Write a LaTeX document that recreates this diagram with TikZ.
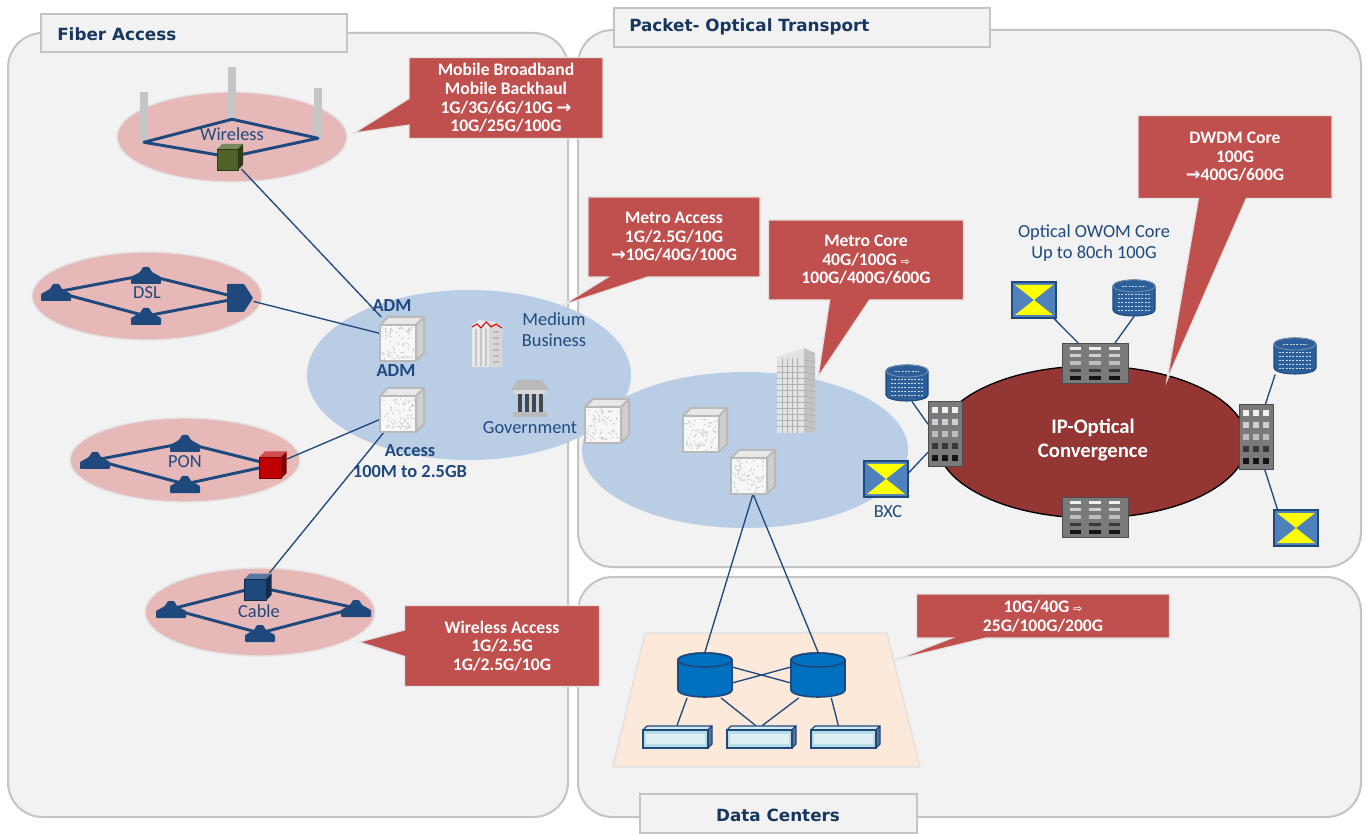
\documentclass[tikz,border=0pt]{standalone}
\usepackage{fontspec}
\setmainfont{Carlito}
\newfontfamily\titlefont{DejaVu Sans}
\newfontfamily\symfont{DejaVu Sans}
\usetikzlibrary{shapes.callouts,shapes.geometric}

\definecolor{panelfill}{HTML}{F2F2F2}
\definecolor{panelline}{HTML}{C4C4C4}
\definecolor{pinkfill}{HTML}{E6B9B8}
\definecolor{bluefill}{HTML}{B9CDE5}
\definecolor{calloutred}{HTML}{C0504D}
\definecolor{ringred}{HTML}{943634}
\definecolor{navy}{HTML}{1F497D}
\definecolor{titleblue}{HTML}{17375E}
\definecolor{xblue}{HTML}{4F81BD}
\definecolor{xyellow}{HTML}{FFFF00}
\definecolor{dcblue}{HTML}{0070C0}
\definecolor{dbblue}{HTML}{2D5F9A}
\definecolor{peach}{HTML}{FDE9D9}
\definecolor{swcyan}{HTML}{B7DEE8}
\definecolor{cubegreen}{HTML}{4F6228}
\definecolor{cubered}{HTML}{C00000}
\definecolor{rackgray}{HTML}{7A7A7A}

\tikzset{
  % speckled grey network element
  pics/graycube/.style={code={
    \fill[gray!6] (-22,-14) rectangle (14,22);
    \foreach \k in {1,...,70}{
      \pgfmathsetmacro\px{-20+32*rnd}
      \pgfmathsetmacro\py{-12+32*rnd}
      \fill[gray!40] (\px,\py) circle[radius=0.9];
    }
    \draw[gray!55, line width=1.5pt, line join=round] (-22,-14) rectangle (14,22);
    \filldraw[fill=gray!18, draw=gray!55, line width=1.5pt, line join=round]
      (-22,-14) -- (-14,-22) -- (22,-22) -- (14,-14) -- cycle;
    \filldraw[fill=gray!38, draw=gray!55, line width=1.5pt, line join=round]
      (14,-14) -- (22,-22) -- (22,14) -- (14,22) -- cycle;
  }},
  % small solid cube: front / top / side colours
  pics/solidcube/.style n args={3}{code={
    \fill[#1] (-10,-6) rectangle (6,10);
    \fill[#2] (-10,-6) -- (-6,-10) -- (10,-10) -- (6,-6) -- cycle;
    \fill[#3] (6,-6) -- (10,-10) -- (10,6) -- (6,10) -- cycle;
    \draw[#3, line width=0.4pt] (-10,-6) rectangle (6,10);
  }},
  pics/house/.style={code={
    \fill[navy, rounded corners=0.6pt] (-15,9) -- (-15,2) -- (-6,-3) -- (-3,-8) -- (3,-8)
      -- (6,-3) -- (15,2) -- (15,9) -- cycle;
  }},
  pics/dslhub/.style={code={
    \fill[navy, rounded corners=0.6pt] (-13,-14) -- (4,-14) -- (13,0) -- (4,14) -- (-13,14) -- cycle;
  }},
  % storage cylinder with printed texture
  pics/tdb/.style={code={
    \filldraw[fill=dbblue, draw=navy, line width=0.8pt]
      (-21,-12) -- (-21,12) arc[start angle=180, end angle=0, x radius=21, y radius=6]
      -- (21,-12) arc[start angle=0, end angle=-180, x radius=21, y radius=6] -- cycle;
    \draw[navy!60!white, line width=0.6pt] (0,-12) ellipse[x radius=21, y radius=6];
    \foreach \yy in {-4,0,4,8,12}
      \draw[white!75!dbblue, line width=0.6pt, dash pattern=on 1.6pt off 0.9pt] (-16,\yy) -- (16,\yy);
    \draw[white!75!dbblue, line width=0.6pt, dash pattern=on 1.6pt off 0.9pt] (-12,-12) -- (12,-12);
  }},
  % data-centre router cylinder
  pics/dcdb/.style={code={
    \filldraw[fill=dcblue, draw=navy, line width=1.2pt]
      (-27,-15) -- (-27,15) arc[start angle=180, end angle=0, x radius=27, y radius=7]
      -- (27,-15) arc[start angle=0, end angle=-180, x radius=27, y radius=7] -- cycle;
    \draw[navy, line width=1.2pt] (0,-15) ellipse[x radius=27, y radius=7];
  }},
  % optical cross-connect
  pics/xbox/.style={code={
    \filldraw[fill=xblue, draw=navy, line width=1pt] (-22,-18) rectangle (22,18);
    \fill[xyellow] (-19,-15) -- (19,-15) -- (0,0) -- cycle;
    \fill[xyellow] (-19,15) -- (19,15) -- (0,0) -- cycle;
  }},
  % grey core node, width #1, height #2
  pics/rack/.style 2 args={code={
    \filldraw[fill=rackgray, draw=black!70, line width=0.6pt] (-#1/2,-#2/2) rectangle (#1/2,#2/2);
    \foreach \c in {-1,0,1}{
      \foreach \r/\col in {0/gray!12, 1/gray!38, 2/gray!52, 3/black!78, 4/black!92}{
        \fill[\col] ({\c*#1*0.29-#1*0.085}, {-#2/2+#2*(0.09+\r*0.185)})
          rectangle ++({#1*0.17}, {#2*0.085});
      }
    }
  }},
  % office tower
  pics/tower/.style={code={
    \fill[gray!22] (-19,-33) -- (8,-42) -- (8,43) -- (-19,43) -- cycle;
    \fill[gray!48] (8,-42) -- (19,-37) -- (19,41) -- (8,43) -- cycle;
    \foreach \yy in {-24,-18,...,40} \draw[gray!60, line width=0.35pt] (-19,\yy) -- (8,\yy);
    \foreach \xx in {-14,-9,...,4} \draw[gray!60, line width=0.35pt] (\xx,-32) -- (\xx,43);
    \foreach \yy in {-30,-24,...,38} \draw[gray!70, line width=0.35pt] (8,\yy) -- (19,\yy+2);
  }},
  % medium business building
  pics/bizbldg/.style={code={
    \fill[gray!18] (-15,-18) -- (-8,-23) -- (8,-21) -- (15,-17) -- (15,24) -- (-15,24) -- cycle;
    \fill[gray!32] (2,-20) -- (15,-17) -- (15,24) -- (2,24) -- cycle;
    \foreach \xx in {-12,-7,-2} \fill[gray!45] (\xx,-14) rectangle (\xx+2,23);
    \foreach \yy in {-12,-6,...,20} \fill[gray!55] (6,\yy) rectangle (12,\yy+2);
    \draw[red!85!black, line width=0.8pt] (-15,-16) -- (-10,-19) -- (-6,-15) -- (-1,-21)
      -- (4,-16) -- (9,-19) -- (15,-15);
  }},
  % government building
  pics/govbldg/.style={code={
    \fill[gray!55] (-19,-8) -- (-12,-18) -- (12,-18) -- (19,-8) -- cycle;
    \fill[gray!30] (-16,-8) rectangle (16,-4);
    \foreach \xx in {-12,-5,2,9} \fill[black!72] (\xx,-4) rectangle (\xx+4,14);
    \fill[gray!55] (-17,14) rectangle (17,19);
  }},
  % top-of-rack switch
  pics/dcswitch/.style={code={
    \filldraw[fill=swcyan!60!white, draw=navy, line width=0.9pt, line join=round]
      (-34,-7) -- (-30,-11) -- (35,-11) -- (31,-7) -- cycle;
    \filldraw[fill=navy!75, draw=navy, line width=0.9pt, line join=round]
      (31,-7) -- (35,-11) -- (35,7) -- (31,11) -- cycle;
    \filldraw[fill=swcyan, draw=navy, line width=0.9pt] (-34,-7) rectangle (31,11);
    \fill[white!55!swcyan] (-31,-3) rectangle (28,7);
  }},
}

\begin{document}
\begin{tikzpicture}[x=0.75pt, y=-0.75pt,
  panel/.style={fill=panelfill, draw=panelline, line width=1.5pt, rounded corners=26pt},
  tab/.style={fill=panelfill, draw=panelline, line width=1.5pt},
  title/.style={font=\titlefont\bfseries\fontsize{12.6}{14}\selectfont, text=titleblue, inner sep=0pt},
  cloudpink/.style={ellipse, fill=pinkfill, draw=gray!22, line width=1pt, inner sep=0pt},
  cloudblue/.style={ellipse, fill=bluefill, inner sep=0pt},
  diamondline/.style={navy, line width=2.2pt, line join=round},
  link/.style={navy, line width=1pt},
  lbl/.style={font=\fontsize{13.8}{15.5}\selectfont, text=navy, inner sep=0pt, align=center},
  lblb/.style={font=\fontsize{13.8}{15.5}\selectfont\bfseries, text=navy, inner sep=0pt, align=center},
  redcallout/.style={rectangle callout, fill=calloutred, draw=gray!22, line width=1pt,
    text=white, font=\fontsize{13.2}{13.9}\selectfont\bfseries, align=center,
    callout pointer width=20pt},
  ib/.style 2 args={inner sep=0pt, outer sep=0pt, minimum width=#1*0.75pt, minimum height=#2*0.75pt},
  antenna/.style={inner sep=0pt, minimum width=5.5pt, minimum height=#1*0.75pt, fill=gray!45},
]
\pgfmathsetseed{17}
\fill[white] (0,0) rectangle (1365,834);
\useasboundingbox (0,0) rectangle (1365,834);

% ---------- panels ----------
\draw[panel] (8,33) rectangle (568,817);
\draw[panel] (578,30) rectangle (1361,567);
\draw[panel] (578,577) rectangle (1361,817);

\draw[tab] (41,14) rectangle (347,52);
\node[title, anchor=west] (tFiber) at (57,34) {Fiber Access};
\draw[tab] (614,8) rectangle (990,47);
\node[title, anchor=west] (tPacket) at (629,27) {Packet- Optical Transport};
\draw[tab] (640,794) rectangle (917,833);
\node[title] (tDC) at (778,815) {Data Centers};

% ---------- clouds ----------
\node[cloudpink, minimum width=230*0.75pt, minimum height=90*0.75pt] (wlCloud) at (232,137) {};
\node[cloudpink, minimum width=230*0.75pt, minimum height=88*0.75pt] (dslCloud) at (147,296) {};
\node[cloudpink, minimum width=230*0.75pt, minimum height=84*0.75pt] (ponCloud) at (185,460) {};
\node[cloudpink, minimum width=230*0.75pt, minimum height=88*0.75pt] (cabCloud) at (260,612) {};
\node[cloudblue, minimum width=324*0.75pt, minimum height=170*0.75pt] (accCloud) at (469,375) {};
\node[cloudblue, minimum width=326*0.75pt, minimum height=156*0.75pt] (metroCloud) at (745,450) {};
\node[ellipse, fill=ringred, draw=black, line width=1pt, inner sep=0pt,
      minimum width=310*0.75pt, minimum height=152*0.75pt] (coreRing) at (1092,442) {};
\filldraw[fill=peach, draw=gray!25, line width=1pt] (645,633) -- (887,633) -- (920,767) -- (613,767) -- cycle;

% ---------- element placeholders ----------
\node[antenna=50] (antL) at (144,117) {};
\node[antenna=52] (antC) at (232,93) {};
\node[antenna=50] (antR) at (318,113) {};
\node[ib={27}{24}] (wCube) at (230,157) {};

\node[ib={30}{18}] (dslL) at (56,292) {};
\node[ib={30}{18}] (dslT) at (146,275) {};
\node[ib={30}{18}] (dslB) at (146,316) {};
\node[ib={27}{28}] (dslHub) at (240,298) {};

\node[ib={30}{18}] (ponL) at (95,460) {};
\node[ib={30}{18}] (ponT) at (185,443) {};
\node[ib={30}{18}] (ponB) at (185,484) {};
\node[ib={28}{28}] (ponCube) at (273,465) {};

\node[ib={30}{18}] (cabL) at (171,609) {};
\node[ib={30}{18}] (cabR) at (356,608) {};
\node[ib={30}{18}] (cabB) at (260,633) {};
\node[ib={30}{28}] (cabCube) at (258,587) {};

\node[ib={44}{44}] (adm) at (402,339) {};
\node[ib={44}{44}] (access) at (402,410) {};
\node[ib={30}{46}] (biz) at (487,343) {};
\node[ib={38}{37}] (gov) at (530,398) {};

\node[ib={44}{44}] (m1) at (607,421) {};
\node[ib={44}{44}] (m2) at (705,430) {};
\node[ib={44}{44}] (m3) at (753,472) {};
\node[ib={38}{85}] (tower) at (796,390) {};

\node[ib={66}{40}] (rackT) at (1095,363) {};
\node[ib={66}{40}] (rackB) at (1095,517) {};
\node[ib={34}{65}] (rackL) at (945,434) {};
\node[ib={34}{65}] (rackR) at (1256,437) {};
\node[ib={43}{37}] (dbL) at (907,383) {};
\node[ib={43}{37}] (dbT) at (1134,298) {};
\node[ib={43}{37}] (dbR) at (1295,356) {};
\node[ib={45}{37}] (xT) at (1034,300) {};
\node[ib={45}{37}] (xR) at (1296,528) {};
\node[ib={45}{37}] (bxc) at (886,479) {};

\node[ib={55}{46}] (db1) at (705,675) {};
\node[ib={55}{46}] (db2) at (818,675) {};
\node[ib={69}{23}] (sw1) at (677,737) {};
\node[ib={69}{23}] (sw2) at (761,737) {};
\node[ib={69}{23}] (sw3) at (845,737) {};

% ---------- access rings ----------
\draw[diamondline] (antL.south) -- (antC.south) -- (antR.south) -- (wCube.center) -- cycle;
\draw[diamondline] (dslL.center) -- (dslT.center) -- (dslHub.center) -- (dslB.center) -- cycle;
\draw[diamondline] (ponL.center) -- (ponT.center) -- (ponCube.center) -- (ponB.center) -- cycle;
\draw[diamondline] (cabL.center) -- (cabCube.center) -- (cabR.center) -- (cabB.center) -- cycle;

% ---------- links ----------
\draw[link] (wCube) -- (adm);
\draw[link] (dslHub) -- (adm);
\draw[link] (ponCube) -- (access);
\draw[link] (cabCube) -- (access);

\draw[link] (m3.south) -- (db1.north);
\draw[link] (m3.south) -- (db2.north);
\draw[link] (db1.16) -- (db2.-164);
\draw[link] (db1.-16) -- (db2.164);
\draw[link] (db1.-128) -- (sw1.north);
\draw[link] (db1.-55) -- ([xshift=-4pt]sw2.north);
\draw[link] (db2.-130) -- ([xshift=1pt]sw2.north);
\draw[link] (db2.-60) -- ([xshift=-5pt]sw3.north);

\draw[link] (rackT.130) -- (xT.-43);
\draw[link] (rackT.45) -- (dbT.south);
\draw[link] (rackL.150) -- (dbL.-75);
\draw[link] (rackL.-133) -- (bxc.15);
\draw[link] (rackR.74) -- (dbR.-137);
\draw[link] (rackR.-75) -- (xR.135);

% ---------- element icons ----------
\pic[scale=1.3] at (wCube) {solidcube={cubegreen}{cubegreen!75!white}{cubegreen!60!black}};
\foreach \h in {dslL,dslT,dslB,ponL,ponT,ponB,cabL,cabR,cabB} \pic at (\h) {house};
\pic at (dslHub) {dslhub};
\pic[scale=1.35] at (ponCube) {solidcube={cubered}{cubered!70!white}{cubered!65!black}};
\pic[scale=1.35] at (cabCube) {solidcube={navy}{navy!75!white}{navy!60!black}};

\foreach \c in {adm,access,m1,m2,m3} \pic at (\c) {graycube};
\pic at (biz) {bizbldg};
\pic at (gov) {govbldg};
\pic at (tower) {tower};

\pic at (rackT) {rack={66}{40}};
\pic at (rackB) {rack={66}{40}};
\pic at (rackL) {rack={34}{65}};
\pic at (rackR) {rack={34}{65}};
\foreach \d in {dbL,dbT,dbR} \pic at (\d) {tdb};
\foreach \x in {xT,xR,bxc} \pic at (\x) {xbox};

\pic at (db1) {dcdb};
\pic at (db2) {dcdb};
\foreach \s in {sw1,sw2,sw3} \pic at (\s) {dcswitch};

% ---------- labels ----------
\node[lbl] (lWireless) at (232,134) {Wireless};
\node[lbl] (lDSL) at (147,293) {DSL};
\node[lbl] (lPON) at (185,462) {PON};
\node[lbl] (lCable) at (259,611) {Cable};
\node[lblb] (lADM1) at (392,306) {ADM};
\node[lblb] (lADM2) at (396,371) {ADM};
\node[lblb] (lAccess) at (410,461) {Access\\100M to 2.5GB};
\node[lbl] (lBiz) at (554,330) {Medium\\Business};
\node[lbl] (lGov) at (530,428) {Government};
\node[lbl] (lBXC) at (888,512) {BXC};
\node[lbl] (lOptical) at (1094,243) {Optical OWOM Core\\Up to 80ch 100G};
\node[font=\fontsize{15.5}{18}\selectfont\bfseries, text=white, align=center] (lCore) at (1093,440)
  {IP-Optical\\Convergence};

% ---------- rate callouts ----------
\node[redcallout, ib={194}{81}, callout absolute pointer={(354,133)}] (cMobile) at (506,98)
  {Mobile Broadband\\Mobile Backhaul\\1G/3G/6G/10G {\symfont\bfseries →}\\10G/25G/100G};
\node[redcallout, ib={195}{81}, callout absolute pointer={(359,642)}] (cWireless) at (502,646)
  {Wireless Access\\1G/2.5G\\1G/2.5G/10G};
\node[redcallout, ib={172}{80}, callout pointer width=30pt, callout absolute pointer={(563,305)}] (cMetroA) at (674,237)
  {Metro Access\\1G/2.5G/10G\\{\symfont\bfseries →}10G/40G/100G};
\node[redcallout, ib={195}{80}, callout pointer width=30pt, callout absolute pointer={(818,377)}] (cMetroC) at (866,260)
  {Metro Core\\40G/100G {\symfont\fontsize{8}{9}\selectfont ⇨}\\100G/400G/600G};
\node[redcallout, ib={194}{83}, callout pointer width=36pt, callout absolute pointer={(1167,380)}] (cDWDM) at (1235,157)
  {DWDM Core\\100G\\{\symfont\bfseries →}400G/600G};
\node[redcallout, ib={253}{44}, callout pointer width=26pt, callout absolute pointer={(895,660)}] (cDC) at (1043,616)
  {10G/40G {\symfont\fontsize{8}{9}\selectfont ⇨}\\25G/100G/200G};
\end{tikzpicture}
\end{document}
